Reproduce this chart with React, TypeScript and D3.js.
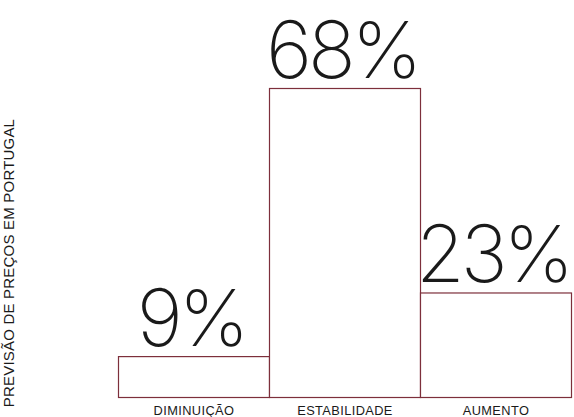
import React from "react";
import * as d3 from "d3";

const categories = ["DIMINUIÇÃO", "ESTABILIDADE", "AUMENTO"];
const values = [9, 68, 23];
const valueLabels = ["9%", "68%", "23%"];
const yTitle = "PREVISÃO DE PREÇOS EM PORTUGAL";

const W = 574;
const H = 417;

export default function App() {
  const x = d3.scaleBand<string>().domain(categories).range([118.5, 571.5]).padding(0);
  const y = d3.scaleLinear().domain([0, 68]).range([397.5, 88.5]);
  const stroke = "#7d2f3b";
  return (
    <svg width={W} height={H} style={{ position: "absolute", left: 0, top: 0 }}>
      <rect x={0} y={0} width={W} height={H} fill="#fff" />
      {categories.map((c, i) => (
        <rect
          key={c}
          x={x(c)}
          y={y(values[i])}
          width={x.bandwidth()}
          height={y(0) - y(values[i])}
          fill="#fff"
          stroke={stroke}
          strokeWidth={1.2}
        />
      ))}
      {categories.map((c, i) => (
        <text
          key={"v" + c}
          x={(x(c) as number) + x.bandwidth() / 2 - 3}
          y={y(values[i]) - 11}
          textAnchor="middle"
          fontFamily="Inter, 'Open Sans', sans-serif"
          fontWeight={200}
          fontSize={79}
          letterSpacing={-4}
          fill="#1a1a1a"
        >
          {valueLabels[i]}
        </text>
      ))}
      {categories.map((c) => (
        <text
          key={"c" + c}
          x={(x(c) as number) + x.bandwidth() / 2}
          y={415}
          textAnchor="middle"
          fontFamily="'Liberation Sans', Arial, sans-serif"
          fontSize={12.8}
          letterSpacing={0.4}
          fill="#1a1a1a"
        >
          {c}
        </text>
      ))}
      <text
        transform={`translate(14, 263) rotate(-90)`}
        textAnchor="middle"
        fontFamily="'Liberation Sans', Arial, sans-serif"
        fontSize={15}
        letterSpacing={0.2}
        fill="#1a1a1a"
      >
        {yTitle}
      </text>
    </svg>
  );
}
